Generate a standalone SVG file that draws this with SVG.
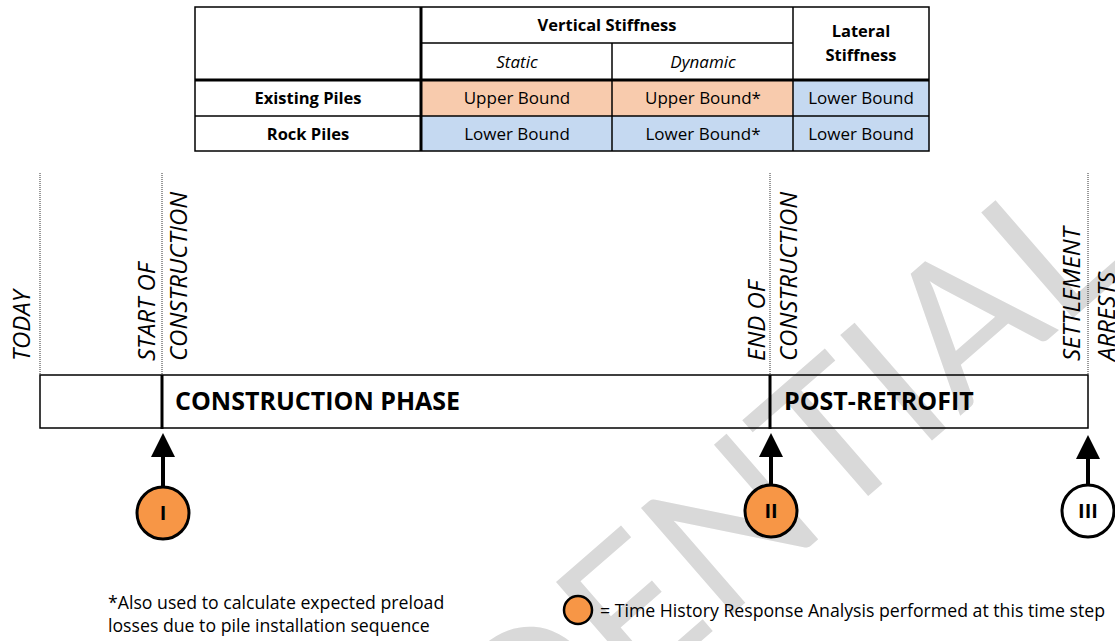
<svg xmlns="http://www.w3.org/2000/svg" width="1115" height="641" viewBox="0 0 1115 641">
  <style>
    .txt { font-family: "Open Sans", "Liberation Sans", sans-serif; fill: #000; }
    .cell { font-size: 17px; text-anchor: middle; }
    .hdr { font-size: 16.5px; font-weight: bold; text-anchor: middle; }
    .sub { font-size: 17px; font-style: italic; text-anchor: middle; }
    .thin { stroke: #000; stroke-width: 1.5; fill: none; }
    .thick { stroke: #000; stroke-width: 3; fill: none; }
    .dot { stroke: #333; stroke-width: 1; stroke-dasharray: 1 1; fill: none; }
    .vlabel { font-size: 24px; font-style: italic; }
    .phase { font-size: 25px; font-weight: bold; }
    .step { stroke: #000; stroke-width: 3; }
    .shaft { stroke: #000; stroke-width: 4; fill: none; }
    .numeral { font-size: 20px; font-weight: bold; text-anchor: middle; }
    .note { font-size: 17.7px; }
    .wm { font-family: Lato, "Open Sans", sans-serif; font-weight: normal; font-size: 195px; fill: #d9d9d9; }
  </style>

  <rect width="1115" height="641" fill="#fff"/>

  <!-- watermark -->
  <g id="watermark">
    <text class="wm" x="0" y="0" text-anchor="end" transform="translate(1135,264) rotate(-41)">CONFIDENTIAL</text>
  </g>

  <!-- stiffness table -->
  <g id="table">
    <rect x="422" y="80" width="190" height="36" fill="#f8cbad"/>
    <rect x="612" y="80" width="181" height="36" fill="#f8cbad"/>
    <rect x="793" y="80" width="136" height="36" fill="#c5d9f1"/>
    <rect x="422" y="116" width="507" height="35" fill="#c5d9f1"/>

    <rect x="195" y="7" width="734" height="144" class="thin"/>
    <line x1="422" y1="43" x2="793" y2="43" class="thin"/>
    <line x1="195" y1="116" x2="929" y2="116" class="thin"/>
    <line x1="612" y1="43" x2="612" y2="151" class="thin"/>
    <line x1="793" y1="7" x2="793" y2="151" class="thin"/>
    <line x1="195" y1="80" x2="929" y2="80" class="thick"/>
    <line x1="421" y1="7" x2="421" y2="151" class="thick"/>

    <text class="txt hdr" x="607" y="31">Vertical Stiffness</text>
    <text class="txt sub" x="517" y="68">Static</text>
    <text class="txt sub" x="703" y="68">Dynamic</text>
    <text class="txt hdr" x="861" y="37">Lateral</text>
    <text class="txt hdr" x="861" y="61">Stiffness</text>

    <text class="txt hdr" x="308" y="104">Existing Piles</text>
    <text class="txt hdr" x="308" y="140">Rock Piles</text>

    <text class="txt cell" x="517" y="104">Upper Bound</text>
    <text class="txt cell" x="703" y="104">Upper Bound*</text>
    <text class="txt cell" x="861" y="104">Lower Bound</text>
    <text class="txt cell" x="517" y="140">Lower Bound</text>
    <text class="txt cell" x="703" y="140">Lower Bound*</text>
    <text class="txt cell" x="861" y="140">Lower Bound</text>
  </g>

  <!-- milestone guide lines -->
  <g id="milestones">
    <line x1="40" y1="173" x2="40" y2="375" class="dot"/>
    <line x1="162" y1="173" x2="162" y2="375" class="dot"/>
    <line x1="770" y1="173" x2="770" y2="375" class="dot"/>
    <line x1="1088" y1="173" x2="1088" y2="375" class="dot"/>
  </g>

  <g id="label-today">
    <text class="txt vlabel" transform="translate(30,361) rotate(-90)">TODAY</text>
  </g>
  <g id="label-start">
    <text class="txt vlabel" transform="translate(155,361) rotate(-90)">START OF</text>
    <text class="txt vlabel" transform="translate(187,361) rotate(-90)">CONSTRUCTION</text>
  </g>
  <g id="label-end">
    <text class="txt vlabel" transform="translate(765,361) rotate(-90)">END OF</text>
    <text class="txt vlabel" transform="translate(797,361) rotate(-90)">CONSTRUCTION</text>
  </g>
  <g id="label-settlement">
    <text class="txt vlabel" transform="translate(1080,361) rotate(-90)">SETTLEMENT</text>
    <text class="txt vlabel" transform="translate(1115,361) rotate(-90)">ARRESTS</text>
  </g>

  <!-- timeline bar -->
  <g id="timeline">
    <rect x="40" y="375" width="1048" height="53" class="thin"/>
  </g>
  <g id="phase-construction">
    <line x1="162" y1="375" x2="162" y2="429" class="thick"/>
    <text class="txt phase" x="175" y="410">CONSTRUCTION PHASE</text>
  </g>
  <g id="phase-post">
    <line x1="770" y1="375" x2="770" y2="429" class="thick"/>
    <text class="txt phase" x="784" y="410">POST-RETROFIT</text>
  </g>

  <!-- arrows from analysis steps to the timeline -->
  <g id="connectors">
    <line x1="163" y1="487" x2="163" y2="455" class="shaft"/>
    <polygon points="163,433 175,457 151,457" fill="#000"/>
    <line x1="771" y1="485" x2="771" y2="455" class="shaft"/>
    <polygon points="771,433 783,457 759,457" fill="#000"/>
    <line x1="1088" y1="485" x2="1088" y2="457" class="shaft"/>
    <polygon points="1088,435 1100,459 1076,459" fill="#000"/>
  </g>

  <g id="step-1">
    <circle cx="163" cy="513" r="26" fill="#f79646" class="step"/>
    <text class="txt numeral" x="163" y="520">I</text>
  </g>
  <g id="step-2">
    <circle cx="771" cy="511" r="26" fill="#f79646" class="step"/>
    <text class="txt numeral" x="771" y="518">II</text>
  </g>
  <g id="step-3">
    <circle cx="1088" cy="511" r="26" fill="#fff" class="step"/>
    <text class="txt numeral" x="1088" y="518">III</text>
  </g>

  <!-- notes -->
  <g id="footnote">
    <text class="txt note" x="108" y="609">*Also used to calculate expected preload</text>
    <text class="txt note" x="108" y="632">losses due to pile installation sequence</text>
  </g>
  <g id="legend">
    <circle cx="578" cy="610" r="14" fill="#f79646" stroke="#000" stroke-width="2.5"/>
    <text class="txt note" x="600" y="617">= Time History Response Analysis performed at this time step</text>
  </g>
</svg>
